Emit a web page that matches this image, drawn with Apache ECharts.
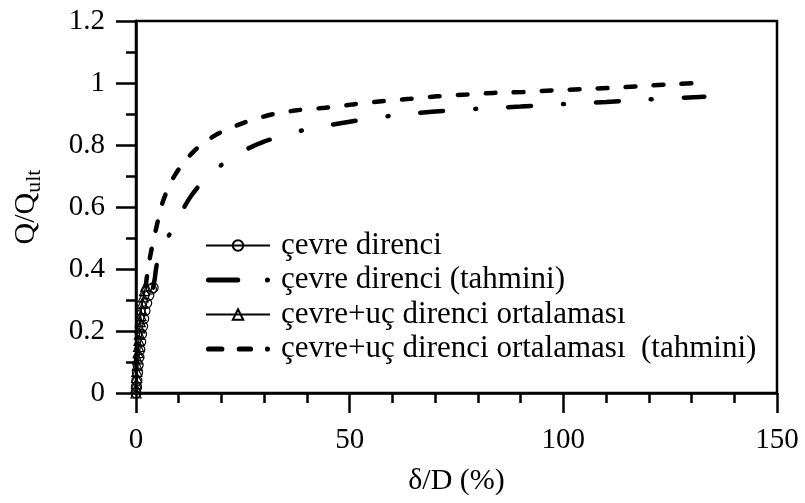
<!DOCTYPE html>
<html>
<head>
<meta charset="utf-8">
<script src="https://cdn.jsdelivr.net/npm/echarts@6/dist/echarts.min.js"></script>
<style>
  html, body { margin: 0; padding: 0; background: #fff; }
  #chart { width: 805px; height: 503px; }
</style>
</head>
<body>
<div id="chart"></div>
<script>
// Axis settings
const xTicks = { min: 0, max: 150, step: 50 };
const yTicks = { min: 0, max: 1.2, step: 0.2 };

// Series names
const seriesNames = [
  'çevre direnci',
  'çevre direnci (tahmini)',
  'çevre+uç direnci ortalaması',
  'çevre+uç direnci ortalaması  (tahmini)'
];

// Measured: shaft resistance [δ/D %, Q/Qult]
const shaftMeasured = [
  [0, 0], [0.1, 0.02], [0.2, 0.04], [0.35, 0.065], [0.5, 0.09], [0.7, 0.115],
  [0.9, 0.14], [1.1, 0.165], [1.3, 0.19], [1.55, 0.215], [1.8, 0.24],
  [2.1, 0.265], [2.5, 0.29], [3.0, 0.315], [3.6, 0.335], [4.0, 0.34]
];

// Estimated: shaft resistance
const shaftEstimated = [
  [4.0, 0.34], [4.4, 0.37], [4.8, 0.41], [6.0, 0.47], [8.0, 0.515], [10.5, 0.58],
  [13, 0.638], [16.5, 0.695], [20.4, 0.74], [25, 0.78], [29.8, 0.81], [35, 0.832],
  [39.8, 0.85], [50, 0.875], [60, 0.895], [70, 0.908], [80, 0.917], [90, 0.924],
  [100, 0.932], [110, 0.939], [120, 0.947], [133, 0.956]
];

// Measured: shaft + tip average
const averageMeasured = [
  [0, 0], [0.05, 0.015], [0.1, 0.03], [0.15, 0.05], [0.2, 0.07], [0.3, 0.09],
  [0.4, 0.11], [0.5, 0.13], [0.6, 0.15], [0.7, 0.17], [0.8, 0.19], [0.9, 0.21],
  [1.0, 0.23], [1.15, 0.25], [1.3, 0.27], [1.5, 0.29], [1.7, 0.31], [2.0, 0.33],
  [2.3, 0.345]
];

// Estimated: shaft + tip average
const averageEstimated = [
  [2.3, 0.345], [2.5, 0.37], [3.3, 0.44], [4.8, 0.536], [6.4, 0.622], [9.1, 0.703],
  [13.4, 0.778], [18.5, 0.831], [24.7, 0.869], [31, 0.896], [37.6, 0.912],
  [44.2, 0.92], [50.8, 0.931], [57.5, 0.941], [64.1, 0.949], [70.4, 0.957],
  [77.4, 0.963], [83.6, 0.968], [90.6, 0.971], [97.3, 0.976], [103.9, 0.98],
  [110.5, 0.984], [117.1, 0.989], [123.8, 0.995], [132, 1.0]
];

const FONT = '"Liberation Serif", "Times New Roman", serif';

// Legend glyphs for the estimated curves: long dash + dot, and two dashes + dot
const dashDotIcon = 'path://M2.5,0 H31.5 A2.5,2.5 0 0,1 31.5,5 H2.5 A2.5,2.5 0 0,1 2.5,0 Z ' +
  'M58.5,2.5 A2.5,2.5 0 1,1 63.5,2.5 A2.5,2.5 0 1,1 58.5,2.5 Z';
const dashedIcon = 'path://M4.5,0 H17.5 A2.5,2.5 0 0,1 17.5,5 H4.5 A2.5,2.5 0 0,1 4.5,0 Z ' +
  'M34.5,0 H45.5 A2.5,2.5 0 0,1 45.5,5 H34.5 A2.5,2.5 0 0,1 34.5,0 Z ' +
  'M59.5,2.5 A2.5,2.5 0 1,1 64.5,2.5 A2.5,2.5 0 1,1 59.5,2.5 Z';

const chart = echarts.init(document.getElementById('chart'), null, { renderer: 'canvas' });

const axisCommon = {
  axisLine: { show: true, onZero: false, lineStyle: { color: '#000', width: 2.5 } },
  axisTick: { show: true, inside: false, length: 20, lineStyle: { color: '#000', width: 2.5 } },
  minorTick: { show: true, length: 10, lineStyle: { color: '#000', width: 2.5 } },
  splitLine: { show: false },
  minorSplitLine: { show: false },
  axisLabel: { color: '#000', fontSize: 29, fontFamily: FONT },
  nameTextStyle: { color: '#000', fontFamily: FONT }
};

chart.setOption({
  animation: false,
  backgroundColor: '#fff',
  grid: {
    left: 136, right: 28, top: 21, bottom: 110,
    show: true, borderColor: '#000', borderWidth: 2.5, backgroundColor: 'transparent'
  },
  xAxis: Object.assign({}, axisCommon, {
    type: 'value',
    min: xTicks.min, max: xTicks.max, interval: xTicks.step,
    minorTick: Object.assign({}, axisCommon.minorTick, { splitNumber: 5 }),
    axisLabel: Object.assign({}, axisCommon.axisLabel, { margin: 33 }),
    name: 'δ/D (%)',
    nameLocation: 'middle',
    nameGap: 73,
    nameTextStyle: { color: '#000', fontFamily: FONT, fontSize: 30 }
  }),
  yAxis: Object.assign({}, axisCommon, {
    type: 'value',
    min: yTicks.min, max: yTicks.max, interval: yTicks.step,
    minorTick: Object.assign({}, axisCommon.minorTick, { splitNumber: 2 }),
    axisLabel: Object.assign({}, axisCommon.axisLabel, { margin: 31 }),
    name: '{a|Q/Q}{b|ult}',
    nameLocation: 'middle',
    nameGap: 91,
    nameRotate: 90,
    nameTextStyle: {
      color: '#000', fontFamily: FONT,
      rich: {
        a: { fontSize: 30, fontFamily: FONT, color: '#000', lineHeight: 38, verticalAlign: 'middle' },
        b: { fontSize: 22, fontFamily: FONT, color: '#000', lineHeight: 38, verticalAlign: 'bottom' }
      }
    }
  }),
  legend: {
    orient: 'vertical',
    left: 200,
    top: 225,
    itemWidth: 64,
    itemHeight: 13,
    itemGap: 3.5,
    data: [
      { name: seriesNames[0] },
      { name: seriesNames[1], icon: dashDotIcon },
      { name: seriesNames[2] },
      { name: seriesNames[3], icon: dashedIcon }
    ],
    textStyle: { color: '#000', fontSize: 31, lineHeight: 31, fontFamily: FONT, padding: [0, 0, 0, 6] }
  },
  series: [
    {
      name: seriesNames[0],
      type: 'line',
      data: shaftMeasured,
      symbol: 'circle',
      symbolSize: 10,
      showAllSymbol: true,
      itemStyle: { color: 'rgba(0,0,0,0)', borderColor: '#000', borderWidth: 1.2 },
      lineStyle: { color: '#000', width: 1.2 },
      z: 4
    },
    {
      name: seriesNames[1],
      type: 'line',
      data: shaftEstimated,
      showSymbol: false,
      symbol: 'none',
      smooth: 0.3,
      itemStyle: { color: '#000' },
      lineStyle: { color: '#000', width: 4.5, type: [23, 32, 1, 32], cap: 'round' },
      z: 3
    },
    {
      name: seriesNames[2],
      type: 'line',
      data: averageMeasured,
      symbol: 'triangle',
      symbolSize: 10,
      showAllSymbol: true,
      itemStyle: { color: 'rgba(0,0,0,0)', borderColor: '#000', borderWidth: 1.2 },
      lineStyle: { color: '#000', width: 1.2 },
      z: 4
    },
    {
      name: seriesNames[3],
      type: 'line',
      data: averageEstimated,
      showSymbol: false,
      symbol: 'none',
      smooth: 0.3,
      itemStyle: { color: '#000' },
      lineStyle: { color: '#000', width: 4.5, type: [10, 18], cap: 'round' },
      z: 3
    }
  ]
});
</script>
</body>
</html>
